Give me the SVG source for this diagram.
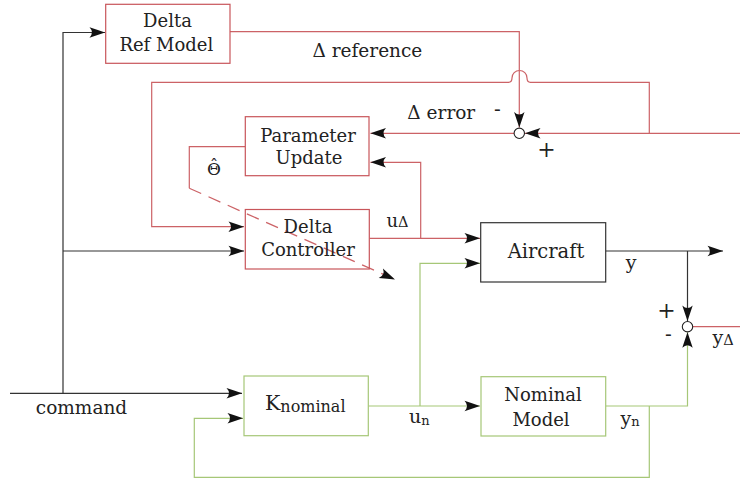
<svg xmlns="http://www.w3.org/2000/svg" width="740" height="483" viewBox="0 0 740 483">
  <style>
    .txt { font-family: "DejaVu Serif", "Liberation Serif", serif; fill: #222; }
    .box { fill: #fff; stroke-width: 1.2; }
    .rbox { stroke: #c8555a; }
    .gbox { stroke: #a6c777; }
    .kbox { stroke: #333; }
    .ln { fill: none; stroke-width: 1.2; }
    .k { stroke: #333; }
    .r { stroke: #cc6266; }
    .g { stroke: #a6c777; }
    .sum { fill: #fff; stroke: #222; stroke-width: 1.1; }
  </style>
  <defs>
    <marker id="arr" markerUnits="userSpaceOnUse" markerWidth="20" markerHeight="14" viewBox="-17 -7 20 14" refX="0" refY="0" orient="auto">
      <path d="M0,0 Q-7,-2.4 -15.5,-5.2 Q-10.5,0 -15.5,5.2 Q-7,2.4 0,0 Z" fill="#111"/>
    </marker>
  </defs>
  <rect width="740" height="483" fill="#fff"/>

  <!-- connectors -->
  <g id="connectors">
    <!-- command distribution -->
    <path class="ln k" d="M10,393.3 H242" marker-end="url(#arr)"/>
    <path class="ln k" d="M63,393.3 V32.5 H105" marker-end="url(#arr)"/>
    <path class="ln k" d="M63,251 H244" marker-end="url(#arr)"/>
    <!-- aircraft output y -->
    <path class="ln k" d="M605.7,251 H723" marker-end="url(#arr)"/>
    <path class="ln k" d="M687.5,251 V321" marker-end="url(#arr)"/>

    <!-- delta reference into error junction -->
    <path class="ln r" d="M230,31.7 H519.3 V127.6" marker-end="url(#arr)"/>
    <!-- measured output into error junction -->
    <path class="ln r" d="M740,133.3 H525" marker-end="url(#arr)"/>
    <!-- feedback loop to delta controller, hopping over the reference line -->
    <path class="ln r" d="M649.3,133.3 V82.3 H530.5 Q527,82.3 527,78 A7.5,7.5 0 0 0 512,78 Q512,82.3 508.5,82.3 H151.7 V226.7 H244" marker-end="url(#arr)"/>
    <!-- delta error to parameter update -->
    <path class="ln r" d="M514,133.3 H370.5" marker-end="url(#arr)"/>
    <!-- delta controller output u_delta -->
    <path class="ln r" d="M369.5,238.3 H480" marker-end="url(#arr)"/>
    <path class="ln r" d="M420.7,238.3 V162.3 H370.5" marker-end="url(#arr)"/>
    <!-- parameter estimate theta-hat -->
    <path class="ln r" d="M245,146.7 H189.3 V188.3"/>
    <path class="ln r" d="M189.3,188.3 L395,279.5" stroke-dasharray="13 8" marker-end="url(#arr)"/>
    <!-- y_delta output -->
    <path class="ln r" d="M692.5,326.7 H740"/>

    <!-- nominal loop -->
    <path class="ln g" d="M368.3,406 H480" marker-end="url(#arr)"/>
    <path class="ln g" d="M420,406 V263.3 H480" marker-end="url(#arr)"/>
    <path class="ln g" d="M605.7,406 H687.5 V332.2" marker-end="url(#arr)"/>
    <path class="ln g" d="M649.3,406 V477.3 H194.3 V418.3 H243" marker-end="url(#arr)"/>

    <!-- summing junctions -->
    <circle class="sum" cx="519.3" cy="133.3" r="5.2"/>
    <circle class="sum" cx="687.5" cy="326.7" r="5.2"/>
  </g>

  <!-- nodes -->
  <g id="delta-ref-model">
    <rect class="box rbox" x="105.7" y="4.3" width="124.3" height="59"/>
    <text class="txt" x="167.5" y="27.3" font-size="18" text-anchor="middle">Delta</text>
    <text class="txt" x="166.3" y="51" font-size="18" text-anchor="middle">Ref Model</text>
  </g>
  <g id="parameter-update">
    <rect class="box rbox" x="245.3" y="116.7" width="123.7" height="59"/>
    <text class="txt" x="308" y="141.5" font-size="18" text-anchor="middle">Parameter</text>
    <text class="txt" x="309" y="164.3" font-size="18" text-anchor="middle">Update</text>
  </g>
  <g id="delta-controller">
    <rect class="box rbox" x="245.3" y="209.5" width="124" height="59.5" fill-opacity="0"/>
    <text class="txt" x="308" y="232.7" font-size="18" text-anchor="middle">Delta</text>
    <text class="txt" x="308" y="256" font-size="18" text-anchor="middle">Controller</text>
  </g>
  <g id="aircraft">
    <rect class="box kbox" x="480.7" y="222.7" width="125" height="59.3"/>
    <text class="txt" x="546" y="258.3" font-size="19.5" text-anchor="middle">Aircraft</text>
  </g>
  <g id="k-nominal">
    <rect class="box gbox" x="244" y="376" width="124.3" height="59.7"/>
    <text class="txt" x="265" y="410" font-size="20.5">K<tspan font-size="16" dy="2.3">nominal</tspan></text>
  </g>
  <g id="nominal-model">
    <rect class="box gbox" x="481" y="376.7" width="124.7" height="59.3"/>
    <text class="txt" x="543" y="400.7" font-size="18" text-anchor="middle">Nominal</text>
    <text class="txt" x="541" y="425.7" font-size="18" text-anchor="middle">Model</text>
  </g>

  <!-- signal labels -->
  <g id="labels">
    <text class="txt" x="367.4" y="56.5" font-size="18.5" text-anchor="middle">Δ reference</text>
    <text class="txt" x="441.3" y="119.3" font-size="18.5" text-anchor="middle">Δ error</text>
    <text class="txt" x="497.5" y="116" font-size="20" text-anchor="middle">-</text>
    <text class="txt" x="546.5" y="156.5" font-size="22" text-anchor="middle">+</text>
    <text class="txt" x="214" y="175" font-size="17" text-anchor="middle">Θ<tspan x="214" y="170.5">ˆ</tspan></text>
    <text class="txt" x="386.5" y="226.7" font-size="18">u<tspan font-size="14.5" dy="0.6">Δ</tspan></text>
    <text class="txt" x="631" y="269" font-size="19" text-anchor="middle">y</text>
    <text class="txt" x="666.5" y="318" font-size="22" text-anchor="middle">+</text>
    <text class="txt" x="668.5" y="341" font-size="20" text-anchor="middle">-</text>
    <text class="txt" x="712.5" y="343.5" font-size="19">y<tspan font-size="14.5" dy="1.5">Δ</tspan></text>
    <text class="txt" x="81.5" y="414.3" font-size="18.5" text-anchor="middle">command</text>
    <text class="txt" x="409" y="423.3" font-size="19">u<tspan font-size="13" dy="1.5">n</tspan></text>
    <text class="txt" x="620.5" y="425" font-size="19">y<tspan font-size="13" dy="0.5">n</tspan></text>
  </g>
</svg>
